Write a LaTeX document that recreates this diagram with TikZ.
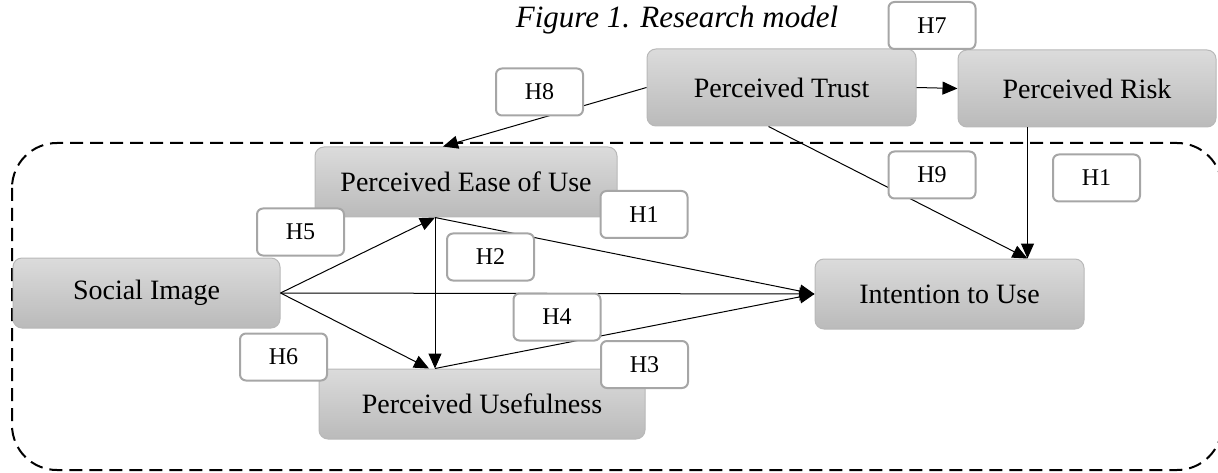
\documentclass[tikz,border=0pt]{standalone}
\usepackage{fontspec}
\setmainfont{Liberation Serif}
\usetikzlibrary{arrows.meta}
\tikzset{
  construct/.style={draw=black!28,line width=1pt,rounded corners=9pt,top color=black!14,bottom color=black!27,inner sep=0pt,font=\fontsize{28}{32}\selectfont},
  hyp/.style={draw=black!35,fill=white,line width=2pt,rounded corners=6pt,minimum width=87pt,minimum height=47pt,inner sep=0pt,font=\fontsize{24}{28}\selectfont},
  link/.style={line width=1pt,-{Triangle[length=15pt,width=13pt]}}
}

\begin{document}
\begin{tikzpicture}[x=1pt,y=-1pt]
  \useasboundingbox (0,0) rectangle (1218,473);
  \node[font=\fontsize{31}{35}\selectfont\itshape] (title) at (677,20) {Figure 1. Research model};
  % dashed frame
  \draw[line width=2pt,dash pattern=on 13pt off 7pt,rounded corners=45pt] (12,143) rectangle (1222,470);
  % constructs
  \node[construct,minimum width=269pt,minimum height=77pt] (trust) at (781.5,87.5) {Perceived Trust};
  \node[construct,minimum width=258pt,minimum height=77pt] (risk) at (1087,88.5) {Perceived Risk};
  \node[construct,minimum width=302pt,minimum height=70pt] (peou) at (466,182) {Perceived Ease of Use};
  \node[construct,minimum width=267pt,minimum height=70pt] (si) at (146.5,293) {Social Image};
  \node[construct,minimum width=326pt,minimum height=70pt] (pu) at (482,404) {Perceived Usefulness};
  \node[construct,minimum width=269pt,minimum height=70pt] (iu) at (949.5,294) {Intention to Use};
  \coordinate (pe) at ([xshift=-31pt]peou.south);
  \coordinate (pu1) at ([xshift=-47pt]pu.north);
  \coordinate (iutop) at ([xshift=78pt]iu.north);
  % paths
  \draw[link] (trust.east) -- (risk.west);
  \draw[link] (trust.west) -- ([xshift=-23pt]peou.north);
  \draw[link] ([xshift=-13pt]trust.south) -- (iutop);
  \draw[link] (risk.south -| iutop) -- (iutop);
  \draw[link] (si.east) -- (pe);
  \draw[link] (si.east) -- ([xshift=-6pt]pu1);
  \draw[link] (si.east) -- (iu.west);
  \draw[link] (pe) -- (pu1);
  \draw[link] (pe) -- (iu.west);
  \draw[link] (pu1) -- (iu.west);
  % hypotheses
  \node[hyp] (h7) at (932,25.5) {H7};
  \node[hyp] (h8) at (539.5,92) {H8};
  \node[hyp] (h9) at (932,175) {H9};
  \node[hyp] (h1a) at (1096.5,178) {H1};
  \node[hyp] (h1b) at (644,214.5) {H1};
  \node[hyp] (h5) at (300.5,232) {H5};
  \node[hyp] (h2) at (490.5,257) {H2};
  \node[hyp] (h4) at (557,317) {H4};
  \node[hyp] (h6) at (283.5,357) {H6};
  \node[hyp] (h3) at (644.5,364.5) {H3};
\end{tikzpicture}
\end{document}
